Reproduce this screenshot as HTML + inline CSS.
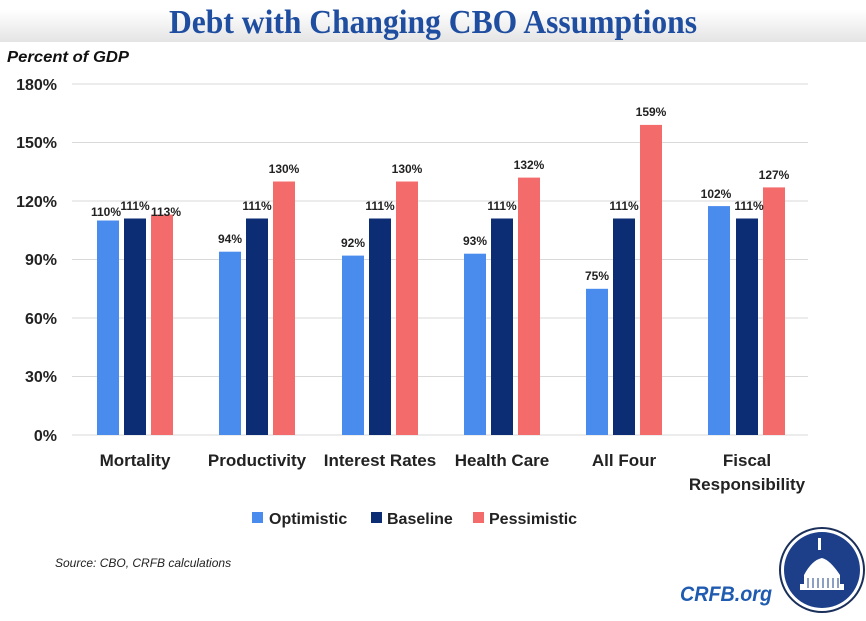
<!DOCTYPE html>
<html><head><meta charset="utf-8"><style>
body{margin:0;background:#fff}
svg{display:block}
</style></head><body>
<svg width="866" height="621" viewBox="0 0 866 621" xmlns="http://www.w3.org/2000/svg" font-family="Liberation Sans, sans-serif">
<defs><linearGradient id="g" x1="0" y1="0" x2="0" y2="1"><stop offset="0" stop-color="#fff"/><stop offset="1" stop-color="#e4e4e4"/></linearGradient></defs>
<rect x="0" y="10" width="866" height="32" fill="url(#g)"/>
<text x="433" y="33" text-anchor="middle" font-family="Liberation Serif, serif" font-weight="bold" font-size="34" fill="#1f4ea0" textLength="528" lengthAdjust="spacingAndGlyphs">Debt with Changing CBO Assumptions</text>
<text x="7" y="62" font-size="16" font-style="italic" font-weight="bold" fill="#111" textLength="122" lengthAdjust="spacingAndGlyphs">Percent of GDP</text>
<g stroke="#d9d9d9" stroke-width="1">
<line x1="72" x2="808" y1="84" y2="84"/><line x1="72" x2="808" y1="142.5" y2="142.5"/><line x1="72" x2="808" y1="201" y2="201"/><line x1="72" x2="808" y1="259.5" y2="259.5"/><line x1="72" x2="808" y1="318" y2="318"/><line x1="72" x2="808" y1="376.5" y2="376.5"/><line x1="72" x2="808" y1="435" y2="435"/>
</g>
<g font-size="16" font-weight="bold" fill="#222" text-anchor="end">
<text x="57" y="90">180%</text><text x="57" y="148">150%</text><text x="57" y="207">120%</text><text x="57" y="265">90%</text><text x="57" y="324">60%</text><text x="57" y="382">30%</text><text x="57" y="441">0%</text>
</g>
<g>
<rect x="97" y="220.5" width="22" height="214.5" fill="#4a8bee"/><rect x="124" y="218.5" width="22" height="216.5" fill="#0c2c74"/><rect x="151" y="214.6" width="22" height="220.4" fill="#f46b6b"/>
<rect x="219" y="251.7" width="22" height="183.3" fill="#4a8bee"/><rect x="246" y="218.5" width="22" height="216.5" fill="#0c2c74"/><rect x="273" y="181.5" width="22" height="253.5" fill="#f46b6b"/>
<rect x="342" y="255.6" width="22" height="179.4" fill="#4a8bee"/><rect x="369" y="218.5" width="22" height="216.5" fill="#0c2c74"/><rect x="396" y="181.5" width="22" height="253.5" fill="#f46b6b"/>
<rect x="464" y="253.7" width="22" height="181.3" fill="#4a8bee"/><rect x="491" y="218.5" width="22" height="216.5" fill="#0c2c74"/><rect x="518" y="177.6" width="22" height="257.4" fill="#f46b6b"/>
<rect x="586" y="288.8" width="22" height="146.2" fill="#4a8bee"/><rect x="613" y="218.5" width="22" height="216.5" fill="#0c2c74"/><rect x="640" y="124.9" width="22" height="310.1" fill="#f46b6b"/>
<rect x="708" y="206.1" width="22" height="228.9" fill="#4a8bee"/><rect x="736" y="218.5" width="22" height="216.5" fill="#0c2c74"/><rect x="763" y="187.4" width="22" height="247.6" fill="#f46b6b"/>
</g>
<g font-size="12" font-weight="bold" fill="#222" text-anchor="middle">
<text x="106" y="216">110%</text><text x="135" y="210">111%</text><text x="166" y="216">113%</text>
<text x="230" y="243">94%</text><text x="257" y="210">111%</text><text x="284" y="173">130%</text>
<text x="353" y="247">92%</text><text x="380" y="210">111%</text><text x="407" y="173">130%</text>
<text x="475" y="245">93%</text><text x="502" y="210">111%</text><text x="529" y="169">132%</text>
<text x="597" y="280">75%</text><text x="624" y="210">111%</text><text x="651" y="116">159%</text>
<text x="716" y="198">102%</text><text x="749" y="210">111%</text><text x="774" y="179">127%</text>
</g>
<g font-size="17" font-weight="bold" fill="#222" text-anchor="middle">
<text x="135" y="466">Mortality</text><text x="257" y="466">Productivity</text><text x="380" y="466">Interest Rates</text><text x="502" y="466">Health Care</text><text x="624" y="466">All Four</text><text x="747" y="466">Fiscal</text><text x="747" y="490">Responsibility</text>
</g>
<g font-size="16" font-weight="bold" fill="#222">
<rect x="252" y="512" width="11" height="11" fill="#4a8bee"/><text x="269" y="524">Optimistic</text>
<rect x="371" y="512" width="11" height="11" fill="#0c2c74"/><text x="387" y="524">Baseline</text>
<rect x="473" y="512" width="11" height="11" fill="#f46b6b"/><text x="489" y="524">Pessimistic</text>
</g>
<text x="55" y="567" font-size="12" font-style="italic" fill="#222">Source: CBO, CRFB calculations</text>
<text x="680" y="601" font-size="21" font-style="italic" font-weight="bold" fill="#1f5bb0" textLength="92" lengthAdjust="spacingAndGlyphs">CRFB.org</text>
<circle cx="822" cy="570" r="42" fill="#fff" stroke="#1a2f5a" stroke-width="2"/>
<circle cx="822" cy="570" r="38" fill="#1d3f8a"/>
<g fill="#fff">
<rect x="818" y="538" width="3" height="12"/>
<path d="M800 590 L844 590 L844 584 L840 584 L840 575 Q830 560 822 558 Q812 560 804 575 L804 584 L800 584Z"/>
</g>
<g stroke="#1d3f8a" stroke-width="1"><line x1="808" y1="578" x2="808" y2="588"/><line x1="813" y1="578" x2="813" y2="588"/><line x1="818" y1="578" x2="818" y2="588"/><line x1="823" y1="578" x2="823" y2="588"/><line x1="828" y1="578" x2="828" y2="588"/><line x1="833" y1="578" x2="833" y2="588"/><line x1="838" y1="578" x2="838" y2="588"/></g>
</svg>
</body></html>
